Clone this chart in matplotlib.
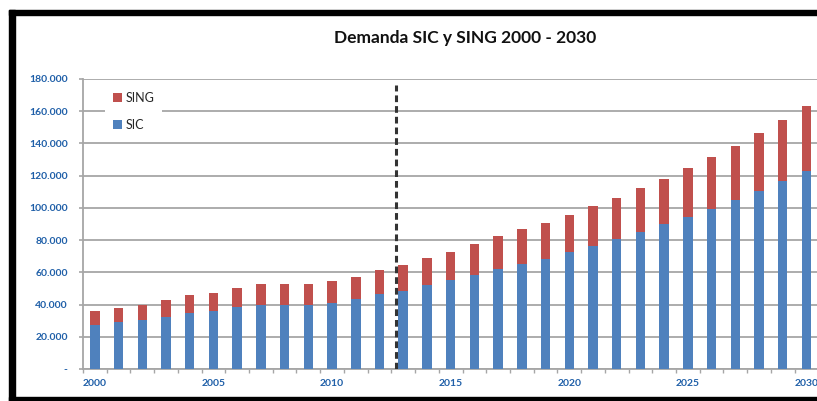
import matplotlib.pyplot as plt
from matplotlib.patches import Rectangle
from matplotlib.ticker import FuncFormatter, FixedLocator

# Demanda (GWh)
years = list(range(2000, 2031))
sic = [27.4, 29.1, 30.3, 32.0, 34.9, 35.9, 38.2, 39.9, 39.5, 39.5, 41.1, 43.2, 46.3,
       48.5, 52.1, 55.0, 58.4, 62.1, 65.2, 68.5, 72.9, 76.6, 80.7, 85.0, 89.7,
       94.5, 99.3, 104.7, 110.5, 116.5, 122.9]
sing = [8.3, 8.7, 9.6, 10.6, 11.0, 11.5, 11.8, 12.6, 13.3, 13.5, 13.7, 13.9, 15.2,
        15.8, 16.9, 17.7, 19.3, 20.6, 21.8, 22.3, 22.9, 24.5, 25.6, 27.1, 28.5,
        30.1, 32.0, 33.8, 35.9, 38.0, 40.1]
sic = [v * 1000 for v in sic]
sing = [v * 1000 for v in sing]
split_year = 2012.7
y_ticks = list(range(0, 180001, 20000))
x_labels = [2000, 2005, 2010, 2015, 2020, 2025, 2030]

blue = '#4F81BD'
red = '#C0504D'
lab_color = '#1F5FA8'
grid_color = '#A6A6A6'

plt.rcParams['font.family'] = ['Lato', 'DejaVu Sans']

fig = plt.figure(figsize=(8.17, 4.01), dpi=100)
ax = fig.add_axes([0.1016, 0.0798, 0.9, 0.7232])

b1 = ax.bar(years, sic, width=0.4, color=blue, zorder=3, label='SIC')
b2 = ax.bar(years, sing, width=0.4, bottom=sic, color=red, zorder=3, label='SING')

ax.vlines(split_year, 0, 176000, colors='#333333', linestyles=(0, (2.2, 1.3)),
          linewidth=2.2, zorder=4)

ax.set_xlim(1999.5, 2030.5)
ax.set_ylim(0, 180000)
ax.set_yticks(y_ticks)
ax.yaxis.set_major_formatter(FuncFormatter(
    lambda v, p: '-' if v == 0 else '{:,.0f}'.format(v).replace(',', '.')))
ax.set_xticks(x_labels)
ax.set_xticklabels([str(x) for x in x_labels])
ax.xaxis.set_minor_locator(FixedLocator([y + 0.5 for y in range(1999, 2031)]))

ax.grid(axis='y', color=grid_color, linewidth=1.3, zorder=0)
ax.set_axisbelow(True)
for s in ['top', 'right']:
    ax.spines[s].set_visible(False)
for s in ['left', 'bottom']:
    ax.spines[s].set_color(grid_color)
    ax.spines[s].set_linewidth(1.3)

ax.tick_params(axis='y', length=3, color=grid_color, width=1.2, labelsize=7.5,
               labelcolor=lab_color, pad=8)
ax.tick_params(axis='x', which='major', length=0, labelsize=7.5, labelcolor=lab_color, pad=7)
ax.tick_params(axis='x', which='minor', length=3, color=grid_color, width=1)
for lab in ax.get_xticklabels() + ax.get_yticklabels():
    lab.set_fontweight('bold')

leg = ax.legend(handles=[b2, b1], loc='upper left', bbox_to_anchor=(0.022, 1.003),
                frameon=True, fancybox=False, edgecolor='none', facecolor='white',
                framealpha=1, fontsize=9, handlelength=0.7, handleheight=0.7,
                handletextpad=0.35, labelspacing=1.2, borderpad=0.6)
for t in leg.get_texts():
    t.set_color('#262626')

fig.text(0.569, 0.905, 'Demanda SIC y SING 2000 - 2030', ha='center', va='center',
         fontsize=12.5, fontweight='bold', color='#111111')

# marco negro
fig.patches.append(Rectangle((0.011, 0.962), 0.989, 0.014, transform=fig.transFigure,
                             color='black', zorder=10))
fig.patches.append(Rectangle((0.011, 0.0), 0.007, 0.976, transform=fig.transFigure,
                             color='black', zorder=10))
fig.patches.append(Rectangle((0.011, 0.0), 0.989, 0.01, transform=fig.transFigure,
                             color='black', zorder=10))

fig.savefig('out.png', dpi=100)
